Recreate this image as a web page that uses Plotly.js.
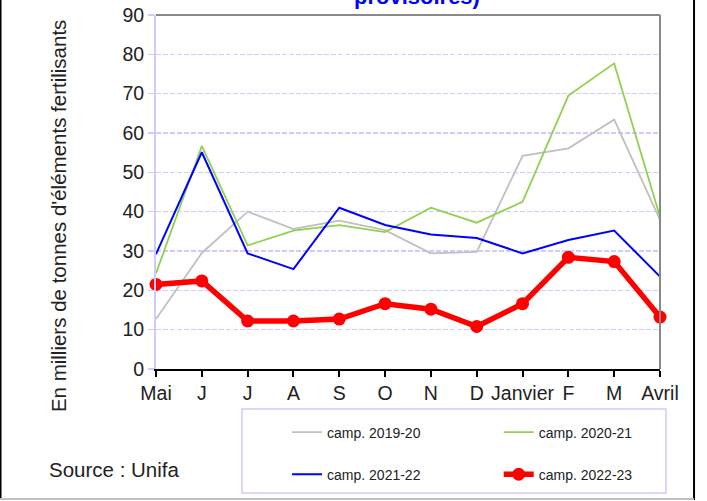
<!DOCTYPE html>
<html>
<head>
<meta charset="utf-8">
<script src="https://cdn.plot.ly/plotly-3.0.1.min.js"></script>
<style>html,body{margin:0;padding:0;background:#fff;}#chart{width:707px;height:501px;}</style>
</head>
<body>
<div id="chart"></div>
<script>
const months = ["Mai","J","J","A","S","O","N","D","Janvier","F","M","Avril"];
const s2019_20 = [12.7, 29.5, 40.0, 35.6, 37.7, 35.3, 29.4, 29.8, 54.2, 56.1, 63.4, 37.9];
const s2020_21 = [24.3, 56.7, 31.4, 35.2, 36.6, 34.8, 41.0, 37.2, 42.5, 69.5, 77.7, 38.7];
const s2021_22 = [29.2, 55.1, 29.4, 25.4, 41.0, 36.6, 34.2, 33.3, 29.4, 32.8, 35.2, 23.5];
const s2022_23 = [21.5, 22.4, 12.2, 12.2, 12.7, 16.6, 15.2, 10.8, 16.6, 28.4, 27.3, 13.2];
const seriesNames = ["camp. 2019-20","camp. 2020-21","camp. 2021-22","camp. 2022-23"];
const yTitle = "En milliers de tonnes d'éléments fertilisants";
const sourceText = "Source : Unifa";
const titleText = "provisoires)";

const xIdx = months.map((_, i) => i);
const F = "Arial, 'Liberation Sans', sans-serif";

const traces = [
  {x: xIdx, y: s2019_20, name: seriesNames[0], mode: "lines", line: {color: "#c0c0c0", width: 1.8}, legend: "legend", legendgroup: "a", cliponaxis: false},
  {x: xIdx, y: s2020_21, name: seriesNames[1], mode: "lines", line: {color: "#92d050", width: 1.8}, legend: "legend2", legendgroup: "b", cliponaxis: false},
  {x: xIdx, y: s2021_22, name: seriesNames[2], mode: "lines", line: {color: "#0000ff", width: 2}, legend: "legend", legendgroup: "c", cliponaxis: false},
  {x: xIdx, y: s2022_23, name: seriesNames[3], mode: "lines+markers", line: {color: "#ff0000", width: 5.5}, marker: {color: "#ff0000", size: 13}, legend: "legend2", legendgroup: "d", cliponaxis: false}
];

const legendCommon = {
  orientation: "v", bgcolor: "rgba(0,0,0,0)", borderwidth: 0,
  font: {family: F, size: 14, color: "#222"},
  tracegroupgap: 21, xanchor: "left", yanchor: "top", traceorder: "grouped"
};

const layout = {
  width: 707, height: 501,
  margin: {l: 156, r: 47, t: 15, b: 132, autoexpand: false},
  paper_bgcolor: "#fff", plot_bgcolor: "#fff",
  showlegend: true,
  legend: Object.assign({}, legendCommon, {x: 0.26, y: -0.134}),
  legend2: Object.assign({}, legendCommon, {x: 0.68, y: -0.134}),
  xaxis: {
    range: [0, 11], tickmode: "array", tickvals: xIdx, ticktext: months,
    showgrid: false, zeroline: false, showline: true, linecolor: "#000", linewidth: 2,
    ticks: "outside", ticklen: 6, tickwidth: 2, tickcolor: "#000",
    tickfont: {family: F, size: 19.5, color: "#222"}, fixedrange: true
  },
  yaxis: {
    range: [0, 90], dtick: 10, tick0: 0,
    showgrid: true, gridcolor: "#ccccff", gridwidth: 1.5, griddash: "5px,2px",
    zeroline: false, showline: true, linecolor: "#ccccff", linewidth: 2,
    ticks: "outside", ticklen: 6, tickwidth: 1.5, tickcolor: "#ccccff",
    tickfont: {family: F, size: 19.5, color: "#222"}, fixedrange: true
  },
  shapes: [
    {type: "line", xref: "paper", yref: "paper", x0: 0, x1: 1, y0: 1, y1: 1, line: {color: "#888", width: 2}},
    {type: "line", xref: "paper", yref: "paper", x0: 1, x1: 1, y0: 0, y1: 1, line: {color: "#888", width: 2}},
    {type: "rect", xref: "paper", yref: "paper", x0: 0.1706, x1: 1.0119, y0: -0.3503, y1: -0.113, line: {color: "#ccccff", width: 1.5}},
    {type: "line", xref: "paper", yref: "paper", x0: -0.3085, x1: -0.3085, y0: -0.37, y1: 1.05, line: {color: "#000", width: 2}},
    {type: "line", xref: "paper", yref: "paper", x0: 1.0675, x1: 1.0675, y0: -0.37, y1: 1.05, line: {color: "#000", width: 2}},
    {type: "line", xref: "paper", yref: "paper", x0: -0.31, x1: 1.0675, y0: -0.3672, y1: -0.3672, line: {color: "#c0c0c0", width: 2}}
  ],
  annotations: [
    {text: yTitle, xref: "paper", yref: "paper", x: -0.1944, y: 0.432, textangle: -90, showarrow: false,
     xanchor: "center", yanchor: "middle", font: {family: F, size: 20.5, color: "#222"}},
    {text: sourceText, xref: "paper", yref: "paper", x: -0.2163, y: -0.2853, showarrow: false,
     xanchor: "left", yanchor: "middle", font: {family: F, size: 20.5, color: "#222"}},
    {text: "<b>" + titleText + "</b>", xref: "paper", yref: "paper", x: 0.518, y: 1.0113, showarrow: false,
     xanchor: "center", yanchor: "bottom", font: {family: F, size: 22, color: "#0000ff"}}
  ]
};

Plotly.newPlot("chart", traces, layout, {displayModeBar: false, staticPlot: true});
</script>
</body>
</html>
